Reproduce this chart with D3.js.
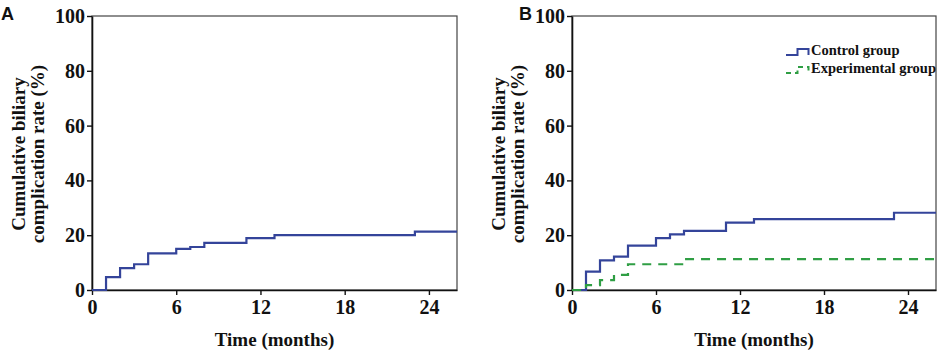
<!DOCTYPE html>
<html>
<head>
<meta charset="utf-8">
<script src="https://cdn.jsdelivr.net/npm/d3@7"></script>
<style>
  body { margin: 0; background: #fff; }
  svg text { font-family: "Liberation Serif", "Times New Roman", serif; font-weight: bold; fill: #111; }
</style>
</head>
<body>
<div id="chart"></div>
<script>
// step times (months) and cumulative rates (%)
const timesA = [0, 1, 2, 3, 4, 6, 7, 8, 11, 13, 23];
const ratesA = [0, 4.7, 8.0, 9.4, 13.4, 15.0, 15.7, 17.2, 18.9, 20.0, 21.3];

const timesControl = [0, 1, 2, 3, 4, 6, 7, 8, 11, 13, 23];
const ratesControl = [0, 6.7, 10.8, 12.2, 16.2, 18.9, 20.3, 21.6, 24.6, 25.9, 28.2];

const timesExp = [0, 1, 2, 3, 4, 8];
const ratesExp = [0, 1.8, 3.6, 5.5, 9.4, 11.3];

const xTicks = [0, 6, 12, 18, 24];
const yTicks = [0, 20, 40, 60, 80, 100];
const xMax = 26;

const blue = '#34449a';
const green = '#2f9e44';

const width = 945;
const height = 353;

const svg = d3.select('#chart')
  .append('svg')
  .attr('width', width)
  .attr('height', height);

function toSteps(times, rates) {
  const pts = times.map((t, i) => ({ t: t, v: rates[i] }));
  pts.push({ t: xMax, v: rates[rates.length - 1] });
  return pts;
}

function panel(left, right, letter, letterX, series) {
  const top = 16, bottom = 290;
  const g = svg.append('g');

  const x = d3.scaleLinear().domain([0, xMax]).range([left, right]);
  const y = d3.scaleLinear().domain([0, 100]).range([bottom, top]);

  // frame
  g.append('rect')
    .attr('x', left).attr('y', top)
    .attr('width', right - left).attr('height', bottom - top)
    .attr('fill', 'none').attr('stroke', '#444').attr('stroke-width', 1.2);

  const xAxis = g.append('g')
    .attr('transform', `translate(0,${bottom})`)
    .call(d3.axisBottom(x).tickValues(xTicks).tickSize(5).tickPadding(5).tickSizeOuter(0));
  xAxis.select('.domain').attr('stroke', '#111').attr('stroke-width', 1.6);
  xAxis.selectAll('.tick line').attr('stroke', '#111').attr('stroke-width', 1.4);
  xAxis.selectAll('.tick text')
    .attr('font-family', '"Liberation Serif", serif')
    .attr('font-size', 20).attr('fill', '#111');

  const yAxis = g.append('g')
    .attr('transform', `translate(${left},0)`)
    .call(d3.axisLeft(y).tickValues(yTicks).tickSize(5).tickPadding(2).tickSizeOuter(0));
  yAxis.select('.domain').attr('stroke', '#111').attr('stroke-width', 1.6);
  yAxis.selectAll('.tick line').attr('stroke', '#111').attr('stroke-width', 1.4);
  yAxis.selectAll('.tick text')
    .attr('font-family', '"Liberation Serif", serif')
    .attr('font-size', 20).attr('fill', '#111');

  const line = d3.line()
    .x(d => x(d.t))
    .y(d => y(d.v))
    .curve(d3.curveStepAfter);

  series.forEach(s => {
    g.append('path')
      .datum(toSteps(s.times, s.rates))
      .attr('fill', 'none')
      .attr('stroke', s.color)
      .attr('stroke-width', 2.2)
      .attr('stroke-dasharray', s.dash || null)
      .attr('d', line);
  });

  // axis titles
  g.append('text')
    .attr('x', (left + right) / 2)
    .attr('y', 346)
    .attr('text-anchor', 'middle')
    .attr('font-size', 19)
    .text('Time (months)');

  const yt = g.append('text')
    .attr('transform', `translate(${left - 67},154) rotate(-90)`)
    .attr('text-anchor', 'middle')
    .attr('font-size', 19);
  yt.append('tspan').attr('x', 0).attr('y', 0).text('Cumulative biliary');
  yt.append('tspan').attr('x', 0).attr('y', 18.5).text('complication rate (%)');

  g.append('text')
    .attr('x', letterX)
    .attr('y', 20)
    .style('font-family', '"Liberation Sans", Arial, sans-serif')
    .attr('font-size', 18)
    .text(letter);

  return { x, y, g };
}

panel(92, 457, 'A', 1, [
  { times: timesA, rates: ratesA, color: blue }
]);

const pB = panel(572, 936, 'B', 519, [
  { times: timesControl, rates: ratesControl, color: blue },
  { times: timesExp, rates: ratesExp, color: green, dash: '9,7' }
]);

// legend
const legend = [
  { name: 'Control group', color: blue, dash: null },
  { name: 'Experimental group', color: green, dash: '5,4' }
];
const lg = svg.append('g').attr('transform', 'translate(786,55)');
legend.forEach((d, i) => {
  const row = lg.append('g').attr('transform', `translate(0,${i * 18})`);
  row.append('path')
    .attr('d', 'M0,0 H11.5 V-6 H22.5 V0')
    .attr('fill', 'none')
    .attr('stroke', d.color)
    .attr('stroke-width', 2)
    .attr('stroke-dasharray', d.dash);
  row.append('text')
    .attr('x', 25)
    .attr('y', 0)
    .attr('font-size', 14.5)
    .text(d.name);
});
</script>
</body>
</html>
